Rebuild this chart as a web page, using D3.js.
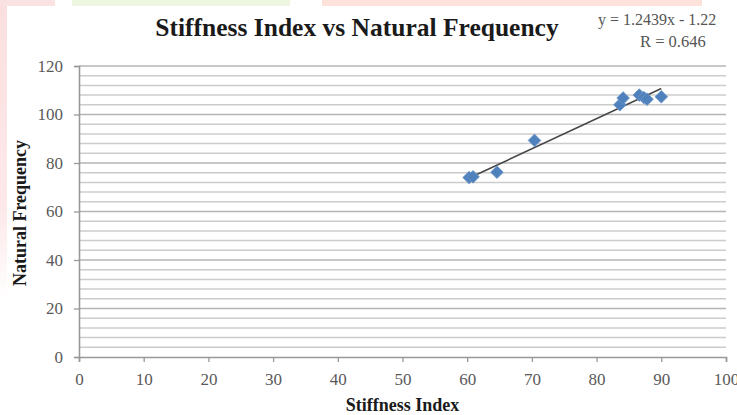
<!DOCTYPE html>
<html>
<head>
<meta charset="utf-8">
<script src="https://cdn.jsdelivr.net/npm/d3@7"></script>
<style>
  body { margin: 0; background: #fff; }
  svg { display: block; }
</style>
</head>
<body>
<div id="chart"></div>
<script>
// data
var stiffness = [60.3, 60.9, 64.6, 70.4, 83.6, 84.1, 86.6, 87.3, 87.8, 90.0];
var frequency = [74.0, 74.3, 76.2, 89.3, 104.0, 106.8, 108.0, 107.0, 106.3, 107.3];
var xTicks = [0, 10, 20, 30, 40, 50, 60, 70, 80, 90, 100];
var yTicks = [0, 20, 40, 60, 80, 100, 120];
var trendSlope = 1.2439, trendIntercept = -1.22;
var eqText = "y = 1.2439x - 1.22";
var rText = "R = 0.646";

var width = 737, height = 415;
var margin = {top: 66, right: 11, bottom: 58, left: 79};
var w = width - margin.left - margin.right,
    h = height - margin.top - margin.bottom;

var serif = "'Liberation Serif', 'Times New Roman', serif";

var svg = d3.select("#chart")
    .append("svg")
        .attr("width", width)
        .attr("height", height);

// faded slide background peeking round the edges
var defs = svg.append("defs");
var lg = defs.append("linearGradient").attr("id", "leftfade")
    .attr("x1", 0).attr("y1", 0).attr("x2", 0).attr("y2", 1);
lg.append("stop").attr("offset", "0%").attr("stop-color", "#fbdfe0");
lg.append("stop").attr("offset", "70%").attr("stop-color", "#fde9ea");
lg.append("stop").attr("offset", "100%").attr("stop-color", "#ffffff");
svg.append("rect").attr("x", 0).attr("y", 0).attr("width", 7).attr("height", 300)
    .attr("fill", "url(#leftfade)");
svg.append("rect").attr("x", 0).attr("y", 0).attr("width", 55).attr("height", 6).attr("fill", "#fbe2e2");
svg.append("rect").attr("x", 72).attr("y", 0).attr("width", 218).attr("height", 6).attr("fill", "#eef6e2");
svg.append("rect").attr("x", 322).attr("y", 0).attr("width", 380).attr("height", 6).attr("fill", "#fde2dc");

var g = svg.append("g")
    .attr("transform", "translate(" + margin.left + "," + margin.top + ")");

var x = d3.scaleLinear().domain([0, 100]).range([0, w]);
var y = d3.scaleLinear().domain([0, 120]).range([h, 0]);

// minor gridlines every 4, major every 20
g.append("g")
    .selectAll("line")
    .data(d3.range(4, 120, 4).filter(function(d) { return d % 20 !== 0; }))
    .enter().append("line")
        .attr("x1", 0).attr("x2", w)
        .attr("y1", function(d) { return y(d); })
        .attr("y2", function(d) { return y(d); })
        .attr("stroke", "#cccccc")
        .attr("stroke-width", 1.5);

g.append("g")
    .selectAll("line")
    .data(yTicks.slice(1))
    .enter().append("line")
        .attr("x1", 0).attr("x2", w)
        .attr("y1", function(d) { return y(d); })
        .attr("y2", function(d) { return y(d); })
        .attr("stroke", "#b4b4b4")
        .attr("stroke-width", 1.7);

var yAxis = g.append("g")
    .call(d3.axisLeft(y).tickValues(yTicks).tickSize(5).tickPadding(11));
var xAxis = g.append("g")
    .attr("transform", "translate(0," + h + ")")
    .call(d3.axisBottom(x).tickValues(xTicks).tickSize(5).tickPadding(11));

[xAxis, yAxis].forEach(function(ax) {
    ax.select(".domain").attr("stroke", "#999").attr("stroke-width", 1.6);
    ax.selectAll(".tick line").attr("stroke", "#999").attr("stroke-width", 1.3);
    ax.selectAll(".tick text")
        .attr("fill", "#5a5a5a")
        .style("font-family", serif)
        .style("font-size", "17px");
});

// trendline over the data's x range
var xr = d3.extent(stiffness);
g.append("line")
    .attr("x1", x(xr[0])).attr("y1", y(trendSlope * xr[0] + trendIntercept))
    .attr("x2", x(xr[1])).attr("y2", y(trendSlope * xr[1] + trendIntercept))
    .attr("stroke", "#474747")
    .attr("stroke-width", 1.6);

var points = stiffness.map(function(d, i) { return [d, frequency[i]]; });
g.selectAll("path.pt")
    .data(points)
    .enter().append("path")
        .attr("class", "pt")
        .attr("d", d3.symbol().type(d3.symbolSquare).size(80))
        .attr("transform", function(d) {
            return "translate(" + x(d[0]) + "," + y(d[1]) + ") rotate(45)";
        })
        .attr("fill", "#4f81bd")
        .attr("stroke", "#6a95c8")
        .attr("stroke-width", 0.8);

svg.append("text")
    .attr("x", 357).attr("y", 36)
    .attr("text-anchor", "middle")
    .style("font-family", serif).style("font-weight", "bold").style("font-size", "25.5px")
    .attr("fill", "#1a1a1a")
    .text("Stiffness Index vs Natural Frequency");

svg.append("text")
    .attr("x", 598).attr("y", 25)
    .style("font-family", serif).style("font-size", "16px")
    .attr("fill", "#555")
    .text(eqText);
svg.append("text")
    .attr("x", 640).attr("y", 47)
    .style("font-family", serif).style("font-size", "16.5px")
    .attr("fill", "#555")
    .text(rText);

svg.append("text")
    .attr("x", margin.left + w / 2).attr("y", 411)
    .attr("text-anchor", "middle")
    .style("font-family", serif).style("font-weight", "bold").style("font-size", "18px")
    .attr("fill", "#1a1a1a")
    .text("Stiffness Index");

svg.append("text")
    .attr("transform", "translate(26,213) rotate(-90)")
    .attr("text-anchor", "middle")
    .style("font-family", serif).style("font-weight", "bold").style("font-size", "18px")
    .attr("fill", "#1a1a1a")
    .text("Natural Frequency");
</script>
</body>
</html>
